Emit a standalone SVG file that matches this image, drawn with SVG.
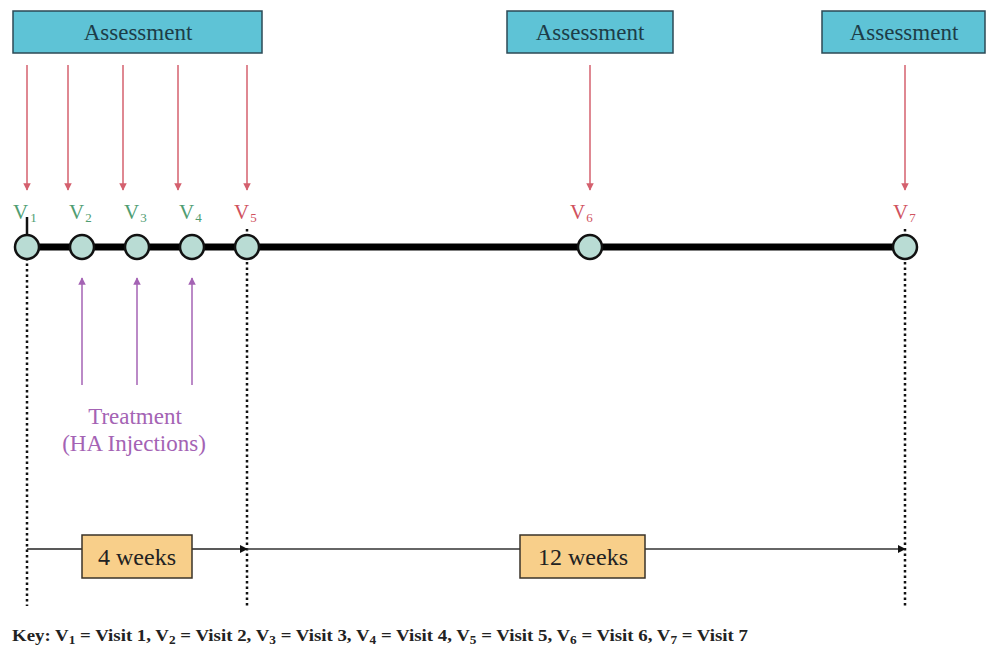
<svg xmlns="http://www.w3.org/2000/svg" width="993" height="658" viewBox="0 0 993 658">
<style>
.assess{fill:#5ec3d6;stroke:#2c4a55;stroke-width:1.5}
.atext{font-family:"Liberation Serif",serif;font-size:23px;fill:#1d3d48;text-anchor:middle}
.red{stroke:#d4606e;stroke-width:1.5}
.pur{stroke:#a463b4;stroke-width:1.5}
.node{fill:#b9dcd4;stroke:#111;stroke-width:2.5}
.vg{font-family:"Liberation Serif",serif;font-size:21px;fill:#4f9d72}
.vr{font-family:"Liberation Serif",serif;font-size:21px;fill:#d0525e}
.sub{font-size:13px}
.dots{stroke:#111;stroke-width:2.5;stroke-dasharray:2.5 3}
.wk{fill:#f8cf8a;stroke:#3a3328;stroke-width:1.5}
.wtext{font-family:"Liberation Serif",serif;font-size:24px;fill:#222;text-anchor:middle}
.ptext{font-family:"Liberation Serif",serif;font-size:23px;fill:#a463b4;text-anchor:middle}
.key{font-family:"Liberation Serif",serif;font-size:17px;fill:#222;font-weight:bold}
</style>
<defs>
<marker id="ra" viewBox="0 0 10 10" refX="9" refY="5" markerWidth="5" markerHeight="5" orient="auto"><path d="M0,0 L10,5 L0,10 z" fill="#d4606e"/></marker>
<marker id="pa" viewBox="0 0 10 10" refX="9" refY="5" markerWidth="5" markerHeight="5" orient="auto"><path d="M0,0 L10,5 L0,10 z" fill="#a463b4"/></marker>
<marker id="ba" viewBox="0 0 10 10" refX="9" refY="5" markerWidth="6" markerHeight="6" orient="auto"><path d="M0,0 L10,5 L0,10 z" fill="#111"/></marker>
</defs>
<rect width="993" height="658" fill="#fff"/>

<g id="connectors">
<line class="red" x1="27" y1="65" x2="27" y2="190" marker-end="url(#ra)"/>
<line class="red" x1="68" y1="65" x2="68" y2="190" marker-end="url(#ra)"/>
<line class="red" x1="123" y1="65" x2="123" y2="190" marker-end="url(#ra)"/>
<line class="red" x1="178" y1="65" x2="178" y2="190" marker-end="url(#ra)"/>
<line class="red" x1="247" y1="65" x2="247" y2="190" marker-end="url(#ra)"/>
<line class="red" x1="590" y1="65" x2="590" y2="190" marker-end="url(#ra)"/>
<line class="red" x1="905" y1="65" x2="905" y2="190" marker-end="url(#ra)"/>
<line class="pur" x1="82" y1="385" x2="82" y2="278" marker-end="url(#pa)"/>
<line class="pur" x1="137" y1="385" x2="137" y2="278" marker-end="url(#pa)"/>
<line class="pur" x1="192" y1="385" x2="192" y2="278" marker-end="url(#pa)"/>
<line x1="27" y1="247" x2="905" y2="247" stroke="#000" stroke-width="7"/>
<line x1="27" y1="217" x2="27" y2="236" stroke="#111" stroke-width="2.5"/>
<line class="dots" x1="27" y1="258" x2="27" y2="606"/>
<line class="dots" x1="247" y1="229" x2="247" y2="606"/>
<line class="dots" x1="905" y1="229" x2="905" y2="606"/>
<line x1="27" y1="549" x2="247" y2="549" stroke="#222" stroke-width="1.3" marker-end="url(#ba)"/>
<line x1="247" y1="549" x2="905" y2="549" stroke="#333" stroke-width="1.3" marker-end="url(#ba)"/>
</g>

<g id="assess1"><rect class="assess" x="13" y="11" width="249" height="42"/><text class="atext" x="138" y="40">Assessment</text></g>
<g id="assess2"><rect class="assess" x="507" y="11" width="166" height="42"/><text class="atext" x="590" y="40">Assessment</text></g>
<g id="assess3"><rect class="assess" x="822" y="11" width="163" height="42"/><text class="atext" x="904" y="40">Assessment</text></g>

<g id="v1"><circle class="node" cx="27" cy="247" r="12"/><text class="vg" x="13" y="219">V<tspan class="sub" dx="2" dy="3">1</tspan></text></g>
<g id="v2"><circle class="node" cx="82" cy="247" r="12"/><text class="vg" x="69" y="219">V<tspan class="sub" dx="1" dy="3">2</tspan></text></g>
<g id="v3"><circle class="node" cx="137" cy="247" r="12"/><text class="vg" x="124" y="219">V<tspan class="sub" dx="1" dy="3">3</tspan></text></g>
<g id="v4"><circle class="node" cx="192" cy="247" r="12"/><text class="vg" x="179" y="219">V<tspan class="sub" dx="1" dy="3">4</tspan></text></g>
<g id="v5"><circle class="node" cx="247" cy="247" r="12"/><text class="vr" x="234" y="219">V<tspan class="sub" dx="1" dy="3">5</tspan></text></g>
<g id="v6"><circle class="node" cx="590" cy="247" r="12"/><text class="vr" x="570" y="219">V<tspan class="sub" dx="1" dy="3">6</tspan></text></g>
<g id="v7"><circle class="node" cx="905" cy="247" r="12"/><text class="vr" x="893" y="219">V<tspan class="sub" dx="1" dy="3">7</tspan></text></g>

<g id="treatment"><text class="ptext" x="135" y="424">Treatment</text><text class="ptext" x="134" y="451">(HA Injections)</text></g>

<g id="weeks4"><rect class="wk" x="82" y="535" width="110" height="43"/><text class="wtext" x="137" y="565">4 weeks</text></g>
<g id="weeks12"><rect class="wk" x="520" y="535" width="125" height="43"/><text class="wtext" x="583" y="565">12 weeks</text></g>

<g id="key"><text class="key" x="12" y="641" textLength="736" lengthAdjust="spacingAndGlyphs">Key: V<tspan font-size="12" dy="3">1</tspan><tspan dy="-3"> = Visit 1, V</tspan><tspan font-size="12" dy="3">2</tspan><tspan dy="-3"> = Visit 2, V</tspan><tspan font-size="12" dy="3">3</tspan><tspan dy="-3"> = Visit 3, V</tspan><tspan font-size="12" dy="3">4</tspan><tspan dy="-3"> = Visit 4, V</tspan><tspan font-size="12" dy="3">5</tspan><tspan dy="-3"> = Visit 5, V</tspan><tspan font-size="12" dy="3">6</tspan><tspan dy="-3"> = Visit 6, V</tspan><tspan font-size="12" dy="3">7</tspan><tspan dy="-3"> = Visit 7</tspan></text></g>
</svg>
